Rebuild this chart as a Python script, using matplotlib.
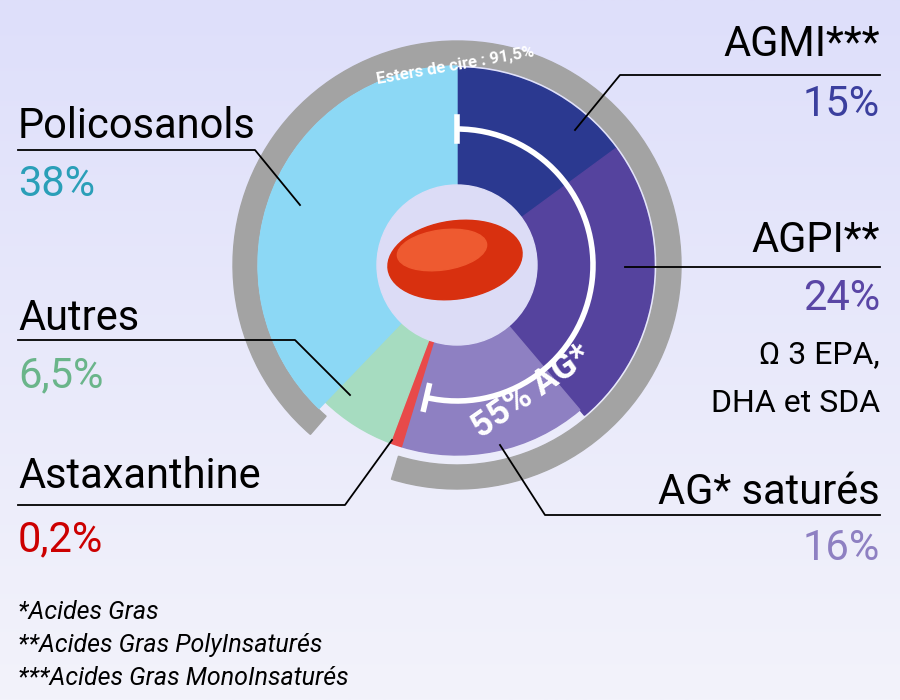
import numpy as np
import matplotlib
matplotlib.use('Agg')
import matplotlib.pyplot as plt
from matplotlib.patches import Wedge, Circle, Ellipse, Arc

plt.rcParams['font.family'] = 'Roboto'

# donnees
noms = ['AGMI', 'AGPI', 'AG satures', 'Astaxanthine', 'Autres', 'Policosanols']
parts = [15, 24, 16, 1.0, 6.5, 38]
rayons = [197, 197, 190, 190, 190, 199]
couleurs = ['#2b3990', '#55439e', '#8e80c2', '#e84a4a', '#a6dcc0', '#8cd8f5']

cx, cy = 457, 265

fig = plt.figure(figsize=(9, 7), dpi=100)
ax = fig.add_axes([0, 0, 1, 1])
ax.set_xlim(0, 900)
ax.set_ylim(700, 0)
ax.axis('off')

# fond degrade
grad = np.linspace(0, 1, 256).reshape(-1, 1)
ax.imshow(grad, extent=[0, 900, 700, 0], aspect='auto', zorder=0,
          cmap=matplotlib.colors.LinearSegmentedColormap.from_list('f', ['#dedffa', '#f3f3fb']))

# anneau gris (esters de cire)
tot = sum(parts)
a_fin = -90 + 360 * sum(parts[:3]) / tot + 360
a_deb = -90 + 360 * sum(parts[:5]) / tot - 3
ax.add_patch(Wedge((cx, cy), 224, a_deb, a_fin, width=24, color='#a3a3a3', zorder=1))

cum = 0
for p, r, c in zip(parts, rayons, couleurs):
    t1 = -90 + 360 * cum / tot
    cum += p
    t2 = -90 + 360 * cum / tot
    ax.add_patch(Wedge((cx, cy), r, t1, t2, width=r - 80, color=c, zorder=2))
ax.add_patch(Circle((cx, cy), 80, color='#dcdcf6', zorder=3))

# capsule
ax.add_patch(Ellipse((cx - 2, cy - 5), 135, 78, angle=-8, color='#d8300f', zorder=4))
ax.add_patch(Ellipse((cx - 15, cy - 15), 90, 40, angle=-8, color='#ee5a30', zorder=5))

# arc blanc 55% AG
fin = -90 + 360 * sum(parts[:3]) / tot - 4
ax.add_patch(Arc((cx, cy), 272, 272, theta1=-90, theta2=fin, color='white', lw=4, zorder=6))
for a in (-90, fin):
    ar = np.deg2rad(a)
    dx, dy = np.cos(ar), np.sin(ar)
    ax.plot([cx + 124 * dx, cx + 148 * dx], [cy + 124 * dy, cy + 148 * dy], color='white', lw=4, zorder=6)
ax.text(532, 392, '55% AG*', color='white', fontsize=25, fontweight='bold', rotation=35,
        ha='center', va='center', zorder=7)
ax.text(455, 66, 'Esters de cire : 91,5%', color='white', fontsize=12, fontweight='bold',
        rotation=10, ha='center', va='center', zorder=7)

# etiquettes
gauche = [('Policosanols', '38%', '#2a9fb8', 127, 185, [(18, 150), (255, 150), (300, 205)]),
          ('Autres', '6,5%', '#6ab58a', 318, 376, [(18, 340), (295, 340), (350, 395)]),
          ('Astaxanthine', '0,2%', '#cc0000', 477, 540, [(18, 505), (345, 505), (392, 440)])]
for nom, pc, col, y1, y2, pts in gauche:
    ax.text(18, y1, nom, fontsize=30, color='black', va='center', ha='left')
    ax.text(18, y2, pc, fontsize=30, color=col, va='center', ha='left')
    xs, ys = zip(*pts)
    ax.plot(xs, ys, color='black', lw=1.3, zorder=8)

droite = [('AGMI***', '15%', '#3b3f9e', 45, 105, [(880, 75), (620, 75), (575, 130)]),
          ('AGPI**', '24%', '#5a46a5', 240, 298, [(880, 267), (625, 267)]),
          ('AG* saturés', '16%', '#8e80c2', 492, 548, [(880, 515), (545, 515), (500, 445)])]
for nom, pc, col, y1, y2, pts in droite:
    ax.text(880, y1, nom, fontsize=30, color='black', va='center', ha='right')
    ax.text(880, y2, pc, fontsize=30, color=col, va='center', ha='right')
    xs, ys = zip(*pts)
    ax.plot(xs, ys, color='black', lw=1.3, zorder=8)
ax.text(880, 355, 'Ω 3 EPA,', fontsize=23, ha='right', va='center')
ax.text(880, 403, 'DHA et SDA', fontsize=23, ha='right', va='center')

notes = ['*Acides Gras', '**Acides Gras PolyInsaturés', '***Acides Gras MonoInsaturés']
for i, n in enumerate(notes):
    ax.text(18, 612 + 33 * i, n, fontsize=18, style='italic', va='center', ha='left')

fig.savefig('out.png', dpi=100)
